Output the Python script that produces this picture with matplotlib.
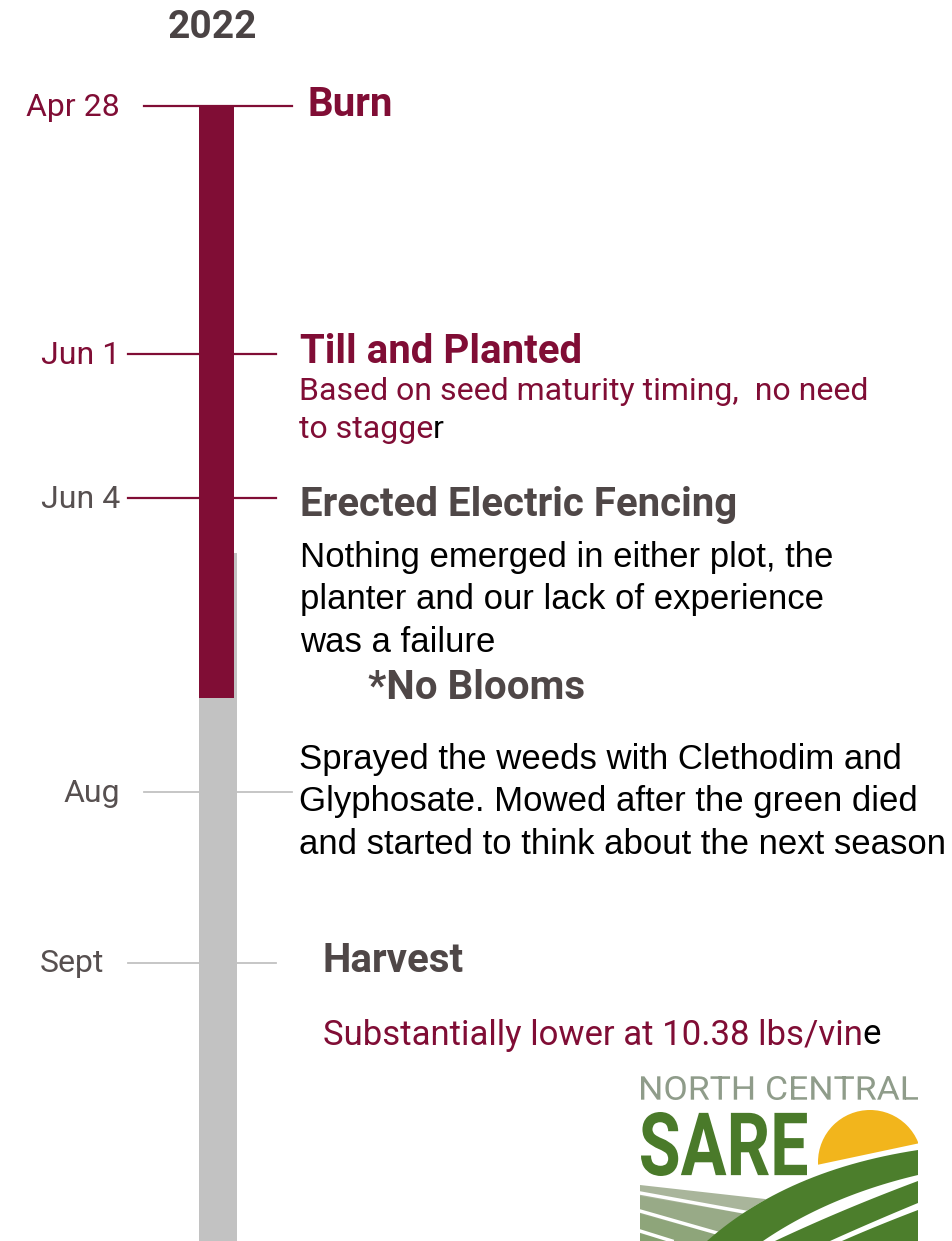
import matplotlib
matplotlib.use('Agg')
import matplotlib.pyplot as plt
from matplotlib.patches import Rectangle, Circle, PathPatch, Polygon
from matplotlib.textpath import TextPath
from matplotlib.font_manager import FontProperties
from matplotlib.transforms import Affine2D

# timeline data (y position on the page scale, label, colour group)
dates = ['Apr 28', 'Jun 1', 'Jun 4', 'Aug', 'Sept']
date_rows = [106, 354, 498, 792, 963]
date_done = [True, True, True, False, False]
titles = ['Burn', 'Till and Planted', 'Erected Electric Fencing', '', 'Harvest']
phase_start = [107, 553]
phase_end = [698, 1241]

MAROON = '#800d35'
DGRAY = '#4f4747'
LGRAY = '#c2c2c2'
ROB = 'Roboto'
ARI = 'Liberation Sans'
DY = 3  # text baseline nudge

fig = plt.figure(figsize=(9.53, 12.41), dpi=100)
ax = fig.add_axes([0, 0, 1, 1])
ax.set_xlim(0, 953)
ax.set_ylim(1241, 0)
ax.axis('off')

ax.text(212, 25 + DY, '2022', ha='center', va='center', fontsize=28, fontweight='bold',
        family=ROB, color='#4a4344')

# connector lines
for i, (d, y) in enumerate(zip(dates, date_rows)):
    c = MAROON if date_done[i] else LGRAY
    x0, x1 = (144, 292) if i in (0, 3) else (128, 276)
    ax.plot([x0, x1], [y, y], color=c, lw=1.6 if date_done[i] else 1.3, zorder=1)
    tc = MAROON if i < 2 else '#575050'
    xr = 120 if d != 'Sept' else 104
    ax.text(xr, y - 2 + DY, d, ha='right', va='center', fontsize=23, family=ROB, color=tc)

# phase bars
ax.add_patch(Rectangle((199, phase_start[1]), 38, phase_end[1] - phase_start[1],
                       color=LGRAY, lw=0, zorder=2))
ax.add_patch(Rectangle((199, phase_start[0]), 35, phase_end[0] - phase_start[0],
                       color=MAROON, lw=0, zorder=3))

# event titles
ax.text(308, 102 + DY, titles[0], va='center', ha='left', fontsize=29, fontweight='bold',
        family=ROB, color=MAROON)
ax.text(300, 349 + DY, titles[1], va='center', ha='left', fontsize=29, fontweight='bold',
        family=ROB, color=MAROON)
ax.text(300, 502 + DY, titles[2], va='center', ha='left', fontsize=29, fontweight='bold',
        family=ROB, color=DGRAY)
ax.text(323, 958 + DY, titles[4], va='center', ha='left', fontsize=29, fontweight='bold',
        family=ROB, color=DGRAY)
ax.text(368, 685 + DY, '*No Blooms', va='center', ha='left', fontsize=29, fontweight='bold',
        family=ROB, color=DGRAY)

# notes
ax.text(299, 389 + DY, 'Based on seed maturity timing,  no need', va='center', ha='left',
        fontsize=23, family=ROB, color=MAROON)
t = ax.text(299, 427 + DY, 'to stagge', va='center', ha='left', fontsize=23, family=ROB,
            color=MAROON)
ax.annotate('r', xy=(1, 0), xycoords=t, va='bottom', ha='left', fontsize=23,
            family=ROB, color='black')

note2 = ['Nothing emerged in either plot, the', 'planter and our lack of experience',
         'was a failure']
for k, s in enumerate(note2):
    ax.text(300, 555 + 42 * k + DY, s, va='center', ha='left', fontsize=25, family=ARI,
            color='black')
note3 = ['Sprayed the weeds with Clethodim and', 'Glyphosate. Mowed after the green died',
         'and started to think about the next season']
for k, s in enumerate(note3):
    ax.text(299, 756 + 42.5 * k + DY, s, va='center', ha='left', fontsize=25, family=ARI,
            color='black')

t2 = ax.text(323, 1032 + DY, 'Substantially lower at 10.38 lbs/vin', va='center', ha='left',
             fontsize=25, family=ROB, color=MAROON)
ax.annotate('e', xy=(1, 0), xycoords=t2, va='bottom', ha='left', fontsize=25,
            family=ROB, color='black')

# logo
def add_text_path(s, x, y, w, h, color, weight='normal'):
    tp = TextPath((0, 0), s, size=100, prop=FontProperties(family=ROB, weight=weight))
    bb = tp.get_extents()
    tr = Affine2D().translate(-bb.x0, -bb.y0).scale(w / bb.width, -h / bb.height).translate(x, y + h)
    ax.add_patch(PathPatch(tr.transform_path(tp), color=color, lw=0, zorder=5))

def bez(p0, c, p2, n=30):
    pts = []
    for j in range(n + 1):
        s = j / n
        pts.append(((1 - s) ** 2 * p0[0] + 2 * s * (1 - s) * c[0] + s ** 2 * p2[0],
                    (1 - s) ** 2 * p0[1] + 2 * s * (1 - s) * c[1] + s ** 2 * p2[1]))
    return pts

clip = Rectangle((640, 1068), 278, 173, transform=ax.transData)

def patch(pts, color, z):
    p = Polygon(pts, closed=True, color=color, lw=0, zorder=z)
    ax.add_patch(p)
    p.set_clip_path(clip)

add_text_path('NORTH CENTRAL', 641, 1076, 277, 24, '#8f9c8a')
add_text_path('SARE', 641, 1112, 166, 64, '#4a7a2a', weight='bold')

sun = Circle((870, 1162), 52, color='#f2b51c', lw=0, zorder=4)
ax.add_patch(sun)
sun.set_clip_path(clip)
patch([(812, 1166), (925, 1142), (925, 1241), (812, 1241)], 'white', 4.5)

GREEN = '#4c7e2c'
top1 = bez((707, 1241), (787, 1170), (918, 1150))
low1 = bez((763, 1241), (829, 1196), (918, 1175))
patch(top1 + [(925, 1150), (925, 1175)] + low1[::-1], GREEN, 6)
top2 = bez((775, 1241), (843, 1209), (918, 1181))
low2 = bez((830, 1241), (872, 1222), (918, 1203))
patch(top2 + [(925, 1181), (925, 1203)] + low2[::-1], GREEN, 6)
top3 = bez((842, 1241), (876, 1226), (918, 1210))
patch(top3 + [(925, 1210), (925, 1241)], GREEN, 6)

# fields at the left
edge = [p for p in top1 if p[1] >= 1199]
patch([(640, 1185), (765, 1199)] + edge[::-1] + [(640, 1241)], '#a9b59b', 5)
patch([(640, 1196), (745, 1214), (725, 1241), (640, 1241)], '#98aa87', 5.1)
patch([(640, 1214), (722, 1236), (718, 1241), (640, 1241)], '#8ea57a', 5.2)
patch([(640, 1234), (670, 1241), (640, 1241)], '#86a070', 5.3)
for a, b in [((640, 1193), (750, 1213)), ((640, 1211), (724, 1235)), ((640, 1231), (672, 1241))]:
    ln, = ax.plot([a[0], b[0]], [a[1], b[1]], color='white', lw=2.5, zorder=5.5)
    ln.set_clip_path(clip)

fig.savefig('out.png', dpi=100)
